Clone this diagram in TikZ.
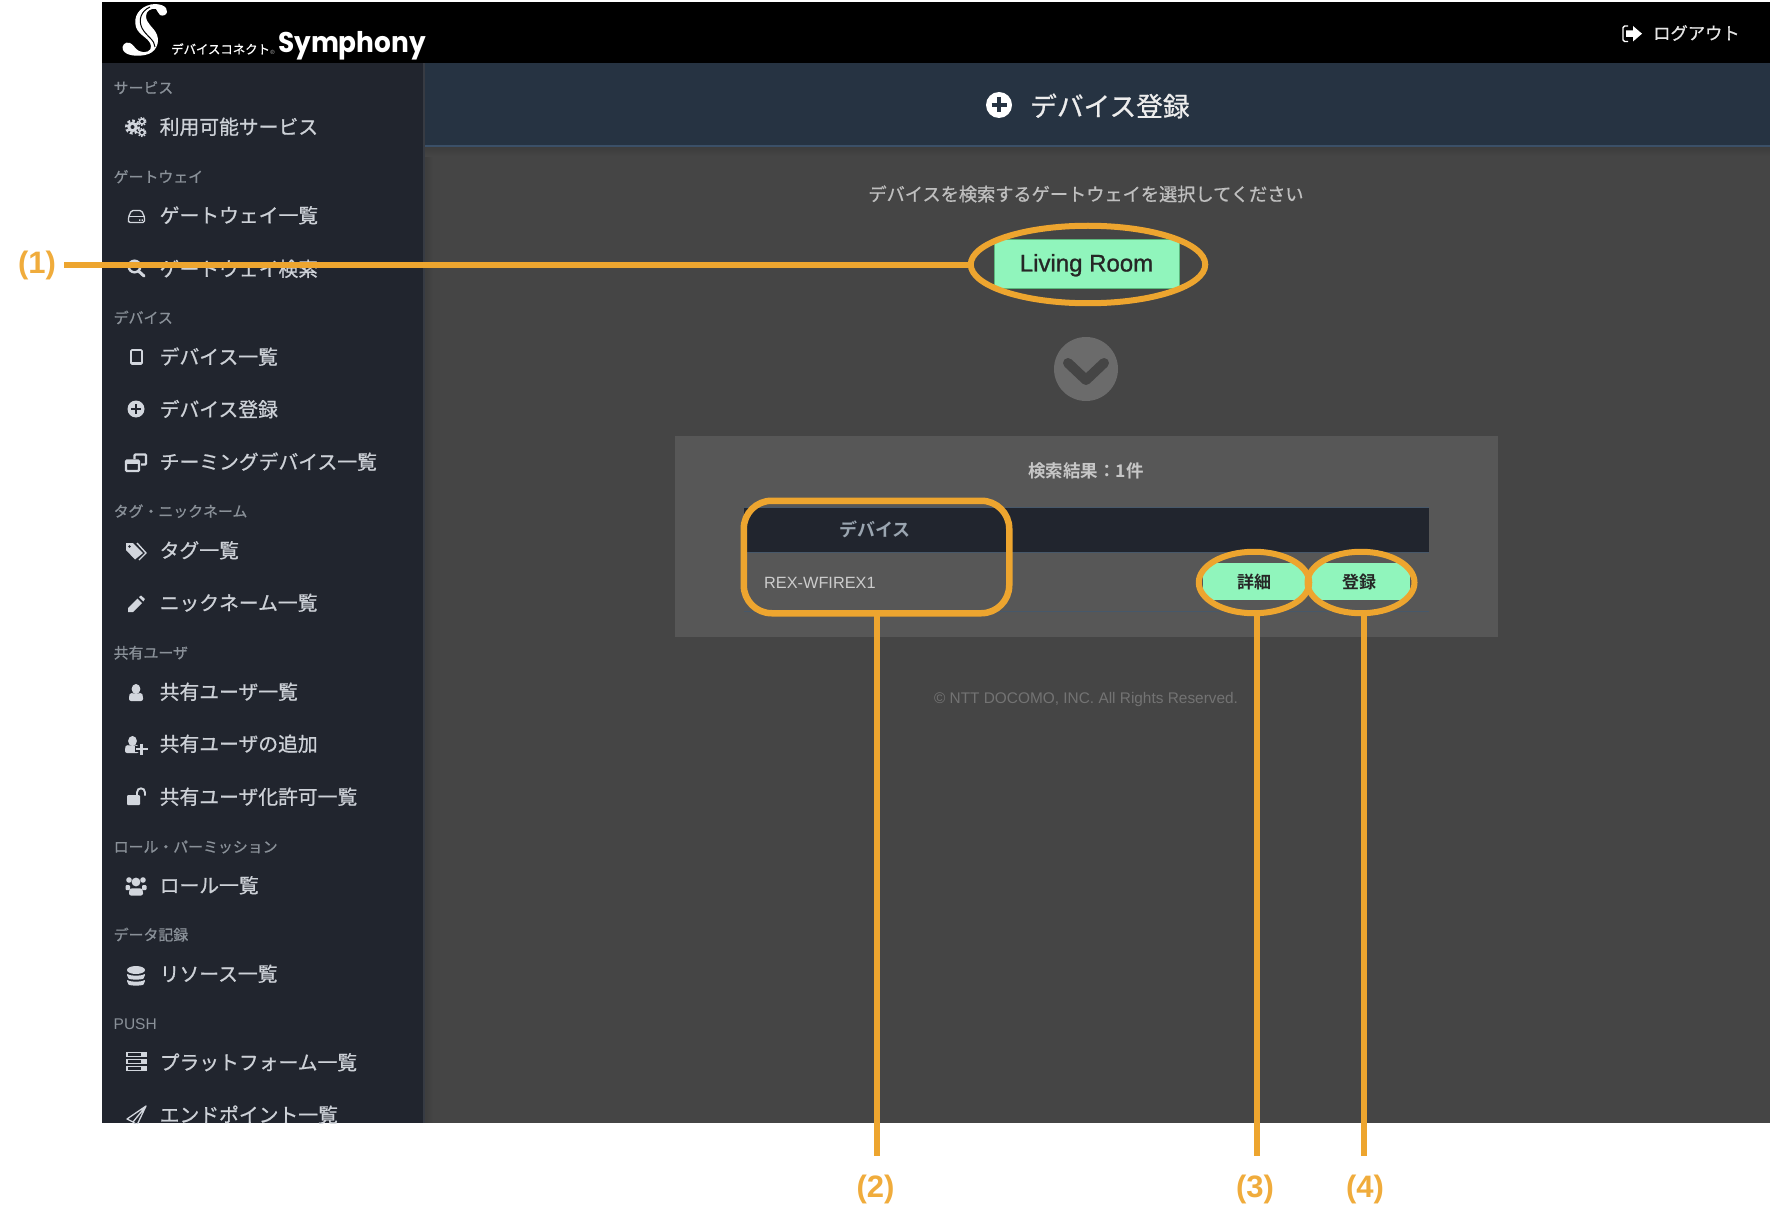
\documentclass[tikz,border=0pt]{standalone}
\usepackage{fontspec}
\usetikzlibrary{shapes.geometric,calc}
\setmainfont{Noto Sans CJK JP}[RawFeature={embolden=0.8}]
\newfontfamily\bfcjk{Noto Sans CJK JP Bold}
\newfontfamily\latinf{Liberation Sans}
\newfontfamily\latinm{Liberation Sans}[RawFeature={embolden=1}]
\newfontfamily\logof{Poppins Bold}
\definecolor{orangeline}{HTML}{EDA52F}
\definecolor{orangetext}{HTML}{F0AC3C}
\definecolor{sidebg}{HTML}{21252E}
\definecolor{contentbg}{HTML}{454545}
\definecolor{panelbg}{HTML}{575757}
\definecolor{headbg}{HTML}{263342}
\definecolor{headline}{HTML}{3B5068}
\definecolor{greenbtn}{HTML}{90F5BC}
\definecolor{greenedge}{HTML}{5CB87D}
\definecolor{menutext}{HTML}{CDD1D7}
\definecolor{grouptext}{HTML}{8A9199}
\definecolor{icon}{HTML}{D2D6DD}
\definecolor{rowline}{HTML}{47586A}
\newcommand\fs[1]{\fontsize{#1}{#1}\selectfont}
\tikzset{
  menuitem/.style={anchor=west,inner sep=0pt,text=menutext,font=\fs{19.8},text height=17.2pt,text depth=2.6pt},
  groupitem/.style={anchor=west,inner sep=0pt,text=grouptext,font=\fs{14.9},text height=12.6pt,text depth=1.8pt},
  callout/.style={draw=orangeline,line width=6pt,fill=none,inner sep=0pt,outer sep=0pt},
  leader/.style={draw=orangeline,line width=6pt},
  numlabel/.style={text=orangetext,font=\latinf\bfseries\fs{31},inner sep=0pt,outer sep=0pt},
  greenbtnbox/.style={fill=greenbtn,draw=greenedge,line width=1pt,inner sep=0pt,text=black!85}
}
\begin{document}
\begin{tikzpicture}[x=1pt,y=-1pt,line cap=butt]
\useasboundingbox (0,0) rectangle (1774,1230);
\fill[white] (0,0) rectangle (1774,1230);
% backgrounds
\fill[contentbg] (102,2) rectangle (1770,1123);
\fill[black] (102,2) rectangle (1770,63);
\fill[headbg] (423,63) rectangle (1770,146);
\fill[headline] (423,145.5) rectangle (1770,147);
\foreach \i in {0,...,9}{
  \pgfmathsetmacro\p{88+\i*1.3}
  \fill[contentbg!\p!black] (423,147+\i) rectangle (1770,148+\i);
  \fill[contentbg!\p!black] (424+\i,147+\i) rectangle (425+\i,1123);
}
\fill[sidebg] (102,63) rectangle (424,1123);
\fill[sidebg!90!white] (423,63) rectangle (424.5,1123);
% logo
\fill[white] (167,12) .. controls (168,6) and (159,3) .. (151,4.5)
  .. controls (139,7) and (133,17) .. (136,27)
  .. controls (139,36) and (150,38) .. (151,46)
  .. controls (152,51) and (145,54) .. (139,51)
  .. controls (135,49) and (134,45) .. (130,43)
  .. controls (125,41) and (121,46) .. (123,50)
  .. controls (126,56) and (137,56.5) .. (145,55)
  .. controls (156,53) and (160,43) .. (157,35)
  .. controls (154,27) and (146,24) .. (146,16)
  .. controls (146,11) and (151,8) .. (156,9)
  .. controls (158,10) and (157,13) .. (160,15)
  .. controls (163,16.5) and (166.5,15) .. (167,12) -- cycle;
\draw[black,line width=1pt] (150,7) .. controls (141,11) and (138,20) .. (142,28) .. controls (146,36) and (155,40) .. (155,47);
\node (logokana) [anchor=west,inner sep=0pt,text=white,font=\fs{12.4}] at (171,49) {デバイスコネクト};
\node (logoreg) [anchor=center,inner sep=0pt,text=white!70!black,font=\latinf\fs{6}] at (272.5,52) {®};
\node (logoname) [anchor=base west,inner sep=0pt,text=white,font=\logof\fs{28.5}] at (278,53) {\scalebox{.925}[1]{Symphony}};
% logout
\draw[white,line width=1.4pt,rounded corners=1.5pt] (1628,26) -- (1623,26) -- (1623,41.5) -- (1628,41.5);
\fill[white] (1626,30.5) -- (1633,30.5) -- (1633,26) -- (1642,33.7) -- (1633,41.5) -- (1633,37) -- (1626,37) -- cycle;
\node (logout) [anchor=west,inner sep=0pt,text=white!90!black,font=\fs{17.3}] at (1653,33) {ログアウト};
% sidebar text
\begin{scope}
\clip (102,63) rectangle (422,1123);
\node (g1) [groupitem] at (113.5,88) {サービス};
\node (m1) [menuitem] at (159.5,127) {利用可能サービス};
\node (g2) [groupitem] at (113.5,177) {ゲートウェイ};
\node (m2) [menuitem] at (159.5,215.5) {ゲートウェイ一覧};
\node (m3) [menuitem] at (159.5,269) {ゲートウェイ検索};
\node (g3) [groupitem] at (113.5,318) {デバイス};
\node (m4) [menuitem] at (159.5,357) {デバイス一覧};
\node (m5) [menuitem] at (159.5,409.5) {デバイス登録};
\node (m6) [menuitem] at (159.5,462) {チーミングデバイス一覧};
\node (g4) [groupitem] at (113.5,511.5) {タグ・ニックネーム};
\node (m7) [menuitem] at (159.5,550.5) {タグ一覧};
\node (m8) [menuitem] at (159.5,603) {ニックネーム一覧};
\node (g5) [groupitem] at (113.5,653) {共有ユーザ};
\node (m9) [menuitem] at (159.5,692) {共有ユーザ一覧};
\node (m10) [menuitem] at (159.5,744) {共有ユーザの追加};
\node (m11) [menuitem] at (159.5,797) {共有ユーザ化許可一覧};
\node (g6) [groupitem] at (113.5,847) {ロール・パーミッション};
\node (m12) [menuitem] at (159.5,885.5) {ロール一覧};
\node (g7) [groupitem] at (113.5,935) {データ記録};
\node (m13) [menuitem] at (159.5,974) {リソース一覧};
\node (g8) [groupitem,font=\latinf\fs{15.5}] at (113.5,1024) {PUSH};
\node (m14) [menuitem] at (159.5,1062.5) {プラットフォーム一覧};
\node (m15) [menuitem] at (159.5,1115) {エンドポイント一覧};
% icons
% gears
\fill[icon] (132.5,127) circle (5.2);
\draw[icon,line width=2.6pt,dash pattern=on 2.6pt off 2.2pt] (132.5,127) circle (6.2);
\fill[sidebg] (132.5,127) circle (2);
\foreach \yy in {121.5,132.5}{
  \draw[icon,line width=1.6pt] (142,\yy) circle (2.6);
  \draw[icon,line width=1.2pt,dash pattern=on 1.4pt off 1.4pt] (142,\yy) circle (4);
}
% hdd
\draw[icon,line width=1.3pt,rounded corners=1.5pt] (128.5,221) -- (128.5,217) -- (131.5,210.5) -- (141.5,210.5) -- (144.5,217) -- (144.5,222.5) -- (128.5,222.5) -- cycle;
\draw[icon,line width=1.1pt] (128.5,216.5) -- (144.5,216.5);
\fill[icon] (139,219.5) rectangle +(1.3,1.3) (141.5,219.5) rectangle +(1.3,1.3);
% search
\draw[icon,line width=2.4pt] (134.5,266.5) circle (5.8);
\draw[icon,line width=3pt,line cap=round] (139,271.5) -- (144,276);
% tablet
\draw[icon,line width=1.6pt,rounded corners=1pt] (131,350) rectangle (142,364);
\fill[icon] (131,361.5) rectangle (142,364);
% plus circle sidebar
\fill[icon] (136,409) circle (8.5);
\draw[sidebg,line width=2.6pt] (131,409) -- (141,409) (136,404) -- (136,414);
% clone
\draw[icon,line width=2.4pt,rounded corners=1pt] (134.5,459) -- (134.5,454.5) -- (146,454.5) -- (146,464.5) -- (141,464.5);
\draw[icon,line width=2.4pt,rounded corners=1pt] (126,460.5) rectangle (139,471);
\fill[icon] (126,460) rectangle (139,463.5);
% tags
\fill[icon] (126,543) -- (133,543) -- (143,553) -- (135,559.5) -- (126,550) -- cycle;
\fill[sidebg] (129.5,546.5) circle (1.3);
\draw[icon,line width=1.4pt] (137,543) -- (146,553) -- (139,560);
% pencil
\fill[icon] (137.5,598.5) -- (142,603) -- (133,612) -- (128,612) -- (128,608) -- cycle;
\fill[icon] (139,597) -- (141,595.5) -- (145,599) -- (143.3,601.5) -- cycle;
% user
\fill[icon] (136,689) ellipse (4.4 and 5);
\fill[icon,rounded corners=2pt] (129,701) -- (129,696) .. controls (130,693) and (133,693) .. (136,694) .. controls (139,693) and (142,693) .. (143,696) -- (143,701) -- cycle;
% user-plus
\fill[icon] (132.5,741) ellipse (4.4 and 5);
\fill[icon,rounded corners=2pt] (125,753) -- (125,748) .. controls (126,745) and (129,745) .. (132.5,746) .. controls (136,745) and (138,745) .. (139,748) -- (139,753) -- cycle;
\draw[sidebg,line width=5.5pt] (135,749) -- (148,749) (141.5,743) -- (141.5,755);
\draw[icon,line width=2.2pt] (136,749) -- (147.5,749) (141.5,743.5) -- (141.5,754.5);
% unlock
\fill[icon,rounded corners=1pt] (127,795) rectangle (140,805);
\draw[icon,line width=1.9pt] (137,796) -- (137,792.5) .. controls (137,787) and (145,787) .. (145,792.5) -- (145,795.5);
% users
\fill[icon] (136,882) circle (4.4);
\fill[icon] (129,880) circle (2.8);
\fill[icon] (143,880) circle (2.8);
\fill[icon,rounded corners=2pt] (129,895.5) -- (129,891) .. controls (130,888) and (142,888) .. (143,891) -- (143,895.5) -- cycle;
\fill[icon,rounded corners=1pt] (125.5,885) rectangle (130,890);
\fill[icon,rounded corners=1pt] (142,885) rectangle (146.5,890);
% database
\fill[icon] (136,970) ellipse (9 and 4);
\fill[icon,rounded corners=2pt] (127,973) .. controls (130,976) and (142,976) .. (145,973) -- (145,977) .. controls (142,980) and (130,980) .. (127,977) -- cycle;
\fill[icon,rounded corners=2pt] (127,979) .. controls (130,982) and (142,982) .. (145,979) -- (145,983) .. controls (142,986) and (130,986) .. (127,983) -- cycle;
% server
\foreach \yy in {1055,1062,1069}{
  \fill[icon] (126,\yy-3) rectangle (146.5,\yy+2.4);
  \fill[sidebg] (128,\yy-1.6) rectangle (140.5,\yy+1);
}
% paper plane
\draw[icon,line width=1.3pt,line join=round] (146,1106) -- (127,1119) -- (133,1122) -- (137,1125) -- (146,1106) -- (133,1122);
\end{scope}
% header
\fill[white] (999,105) circle (13);
\draw[headbg,line width=3.6pt] (991.5,105) -- (1006.5,105) (999,97.5) -- (999,112.5);
\node (title) [anchor=west,inner sep=0pt,text=white!93!black,font=\fs{26.7}] at (1030,106) {デバイス登録};
\node (instr) [anchor=center,inner sep=0pt,text=white!75!black,font=\fs{18.2}] at (1086,194) {デバイスを検索するゲートウェイを選択してください};
% living room
\node (btn1) [greenbtnbox,minimum width=185pt,minimum height=49pt,text height=17pt,text depth=3pt,font=\latinm\fs{24},text=black!85] at (1086.5,264.5) {Living Room};
% chevron
\fill[white!42!black] (1086,369) circle (32);
\draw[contentbg,line width=10pt,line cap=round,line join=round] (1068,363) -- (1086,380) -- (1104,363);
% result panel
\fill[panelbg] (675.4,436) rectangle (1497.6,637);
\node (restitle) [anchor=center,inner sep=0pt,text=white!78!black,font=\bfcjk\fs{17.5}] at (1086,470.5) {検索結果：1件};
\fill[sidebg] (744,507) rectangle (1429,552);
\draw[rowline,line width=1pt] (744,507) -- (1429,507) (744,552.5) -- (1429,552.5) (744,611) -- (1429,611);
\node (colhead) [anchor=center,inner sep=0pt,text={rgb,255:red,154;green,165;blue,176},font=\bfcjk\fs{18}] at (875,529) {デバイス};
\node (devname) [anchor=west,inner sep=0pt,text=white!80!black,font=\latinf\fs{16.3}] at (764,582.5) {REX-WFIREX1};
\begin{scope}
\clip (1254,582.5) ellipse (55.5 and 31);
\node (btn2) [greenbtnbox,draw=none,minimum width=102pt,minimum height=37.5pt,font=\bfcjk\fs{17}] at (1254,581.7) {詳細};
\end{scope}
\begin{scope}
\clip (1361,582.5) ellipse (53.5 and 31);
\node (btn3) [greenbtnbox,draw=none,minimum width=102pt,minimum height=37.5pt,font=\bfcjk\fs{17}] at (1359,581.7) {登録};
\end{scope}
\node (copy) [anchor=center,inner sep=0pt,text=white!45!black,font=\latinf\fs{15.4}] at (1086,700) {© NTT DOCOMO, INC. All Rights Reserved.};
% callouts
\node (c1) [callout,ellipse,minimum width=234.5pt,minimum height=77.5pt] at (1088,264.5) {};
\node (c2) [callout,line width=6.5pt,rounded corners=28pt,rectangle,minimum width=265.5pt,minimum height=112.5pt] at (876.5,557) {};
\node (c3) [callout,ellipse,minimum width=110.5pt,minimum height=61.5pt] at (1254,582.5) {};
\node (c4) [callout,ellipse,minimum width=107pt,minimum height=61.5pt] at (1361,582.5) {};
% labels and leaders
\node (l1) [numlabel,minimum width=54pt] at (37,265) {(1)};
\coordinate (e2) at (877,1156);
\coordinate (e3) at (1257,1156);
\coordinate (e4) at (1364,1156);
\node (l2) [numlabel] at (875.5,1189) {(2)};
\node (l3) [numlabel] at (1255,1189) {(3)};
\node (l4) [numlabel] at (1365,1189) {(4)};
\draw[leader] (l1.east) -- (l1.east -| c1.west);
\draw[leader] (e2 |- c2.south) -- (e2);
\draw[leader] (e3 |- c3.south) -- (e3);
\draw[leader] (e4 |- c4.south) -- (e4);
\end{tikzpicture}
\end{document}
